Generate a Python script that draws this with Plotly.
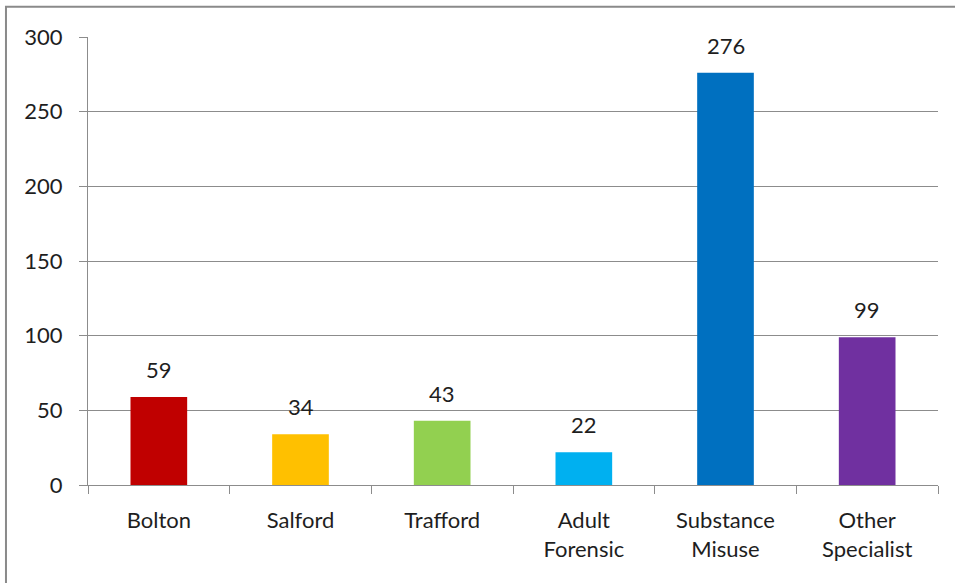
import plotly.graph_objects as go

# Referrals by service
categories = ["Bolton", "Salford", "Trafford", "Adult<br>Forensic", "Substance<br>Misuse", "Other<br>Specialist"]
values = [59, 34, 43, 22, 276, 99]
colors = ["#C00000", "#FFC000", "#92D050", "#00B0F0", "#0070C0", "#7030A0"]
y_ticks = [0, 50, 100, 150, 200, 250, 300]

FONT = "Lato, 'Open Sans', sans-serif"
TEXT = "#1e1e1e"
LINE = "#8c8c8c"
SIZE = 22

fig = go.Figure(
    go.Bar(
        x=categories,
        y=values,
        marker=dict(color=colors, line=dict(width=0)),
        width=0.4,
        hoverinfo="x+y",
    )
)

# value labels above each bar
for c, v in zip(categories, values):
    fig.add_annotation(
        x=c, y=v, text=str(v), showarrow=False,
        yanchor="bottom", yshift=12,
        font=dict(family=FONT, size=SIZE, color=TEXT),
    )

# outer chart frame
fig.add_shape(
    type="rect", xref="paper", yref="paper",
    x0=-0.0965, x1=1.1, y0=-0.3, y1=1.0675,
    line=dict(color="#8a8a8a", width=2), fillcolor="rgba(0,0,0,0)",
    layer="below",
)

fig.update_layout(
    width=955, height=583,
    margin=dict(l=88, r=17, t=37, b=98),
    paper_bgcolor="white", plot_bgcolor="white",
    showlegend=False,
    bargap=0.6,
    font=dict(family=FONT, size=SIZE, color=TEXT),
    xaxis=dict(
        showline=True, linecolor=LINE, linewidth=1,
        ticks="outside", tickson="boundaries", ticklen=8, tickcolor=LINE,
        showgrid=False, tickfont=dict(size=SIZE, color=TEXT),
        ticklabelstandoff=16,
    ),
    yaxis=dict(
        range=[0, 300], tickvals=y_ticks,
        showline=True, linecolor=LINE, linewidth=1,
        showgrid=True, gridcolor=LINE, gridwidth=1,
        ticks="outside", ticklen=8, tickcolor=LINE,
        zeroline=False, tickfont=dict(size=SIZE, color=TEXT),
        ticklabelstandoff=12,
    ),
)

fig.write_html("out.html")
